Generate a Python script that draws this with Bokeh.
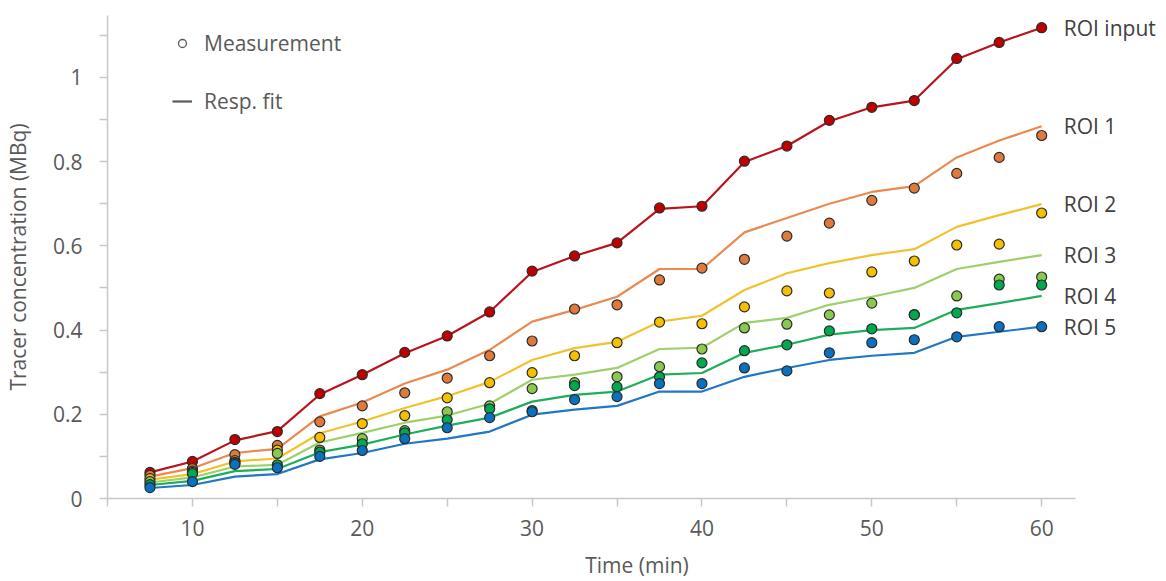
from bokeh.plotting import figure
from bokeh.models import (Range1d, FixedTicker, CustomJSTickFormatter, Label,
                          Legend, LegendItem)
from bokeh.embed import file_html
from bokeh.resources import INLINE

# ---------------- data ----------------
time_min = [7.5, 10, 12.5, 15, 17.5, 20, 22.5, 25, 27.5, 30, 32.5, 35,
            37.5, 40, 42.5, 45, 47.5, 50, 52.5, 55, 57.5, 60]

meas_input = [0.062, 0.088, 0.140, 0.159, 0.249, 0.294, 0.347, 0.386, 0.443, 0.540, 0.576,
              0.607, 0.690, 0.694, 0.801, 0.837, 0.898, 0.929, 0.945, 1.045, 1.083, 1.118]
fit_input = [0.062, 0.088, 0.138, 0.160, 0.247, 0.294, 0.345, 0.386, 0.443, 0.538, 0.576,
             0.607, 0.688, 0.694, 0.799, 0.837, 0.896, 0.929, 0.945, 1.043, 1.083, 1.118]

meas_roi1 = [0.055, 0.071, 0.104, 0.126, 0.182, 0.220, 0.251, 0.286, 0.339, 0.374, 0.450,
             0.460, 0.519, 0.547, 0.568, 0.623, 0.654, 0.708, 0.737, 0.772, 0.810, 0.862]
fit_roi1 = [0.052, 0.072, 0.108, 0.118, 0.195, 0.228, 0.273, 0.306, 0.353, 0.420, 0.448,
            0.479, 0.545, 0.545, 0.632, 0.666, 0.700, 0.728, 0.742, 0.810, 0.850, 0.884]

meas_roi2 = [0.047, 0.065, 0.090, 0.115, 0.145, 0.178, 0.197, 0.239, 0.275, 0.299, 0.339,
             0.370, 0.419, 0.415, 0.455, 0.493, 0.488, 0.538, 0.564, 0.602, 0.604, 0.678]
fit_roi2 = [0.045, 0.058, 0.088, 0.095, 0.155, 0.183, 0.215, 0.243, 0.277, 0.329, 0.357,
            0.372, 0.420, 0.434, 0.495, 0.535, 0.559, 0.578, 0.592, 0.645, 0.673, 0.699]

meas_roi3 = [0.040, 0.062, 0.086, 0.107, 0.115, 0.142, 0.161, 0.206, 0.220, 0.261, 0.275,
             0.289, 0.313, 0.355, 0.405, 0.414, 0.436, 0.464, 0.437, 0.481, 0.521, 0.526]
fit_roi3 = [0.038, 0.050, 0.076, 0.080, 0.133, 0.156, 0.180, 0.197, 0.225, 0.282, 0.294,
            0.310, 0.355, 0.358, 0.417, 0.429, 0.460, 0.479, 0.500, 0.545, 0.562, 0.578]

meas_roi4 = [0.033, 0.059, 0.084, 0.080, 0.110, 0.130, 0.156, 0.187, 0.213, 0.209, 0.268,
             0.265, 0.289, 0.322, 0.351, 0.365, 0.398, 0.403, 0.436, 0.441, 0.507, 0.507]
fit_roi4 = [0.032, 0.042, 0.065, 0.070, 0.110, 0.128, 0.152, 0.173, 0.192, 0.230, 0.246,
            0.254, 0.294, 0.298, 0.346, 0.365, 0.389, 0.400, 0.405, 0.448, 0.464, 0.481]

meas_roi5 = [0.026, 0.040, 0.081, 0.073, 0.100, 0.114, 0.142, 0.168, 0.192, 0.206, 0.235,
             0.242, 0.273, 0.273, 0.310, 0.303, 0.346, 0.370, 0.377, 0.384, 0.408, 0.408]
fit_roi5 = [0.025, 0.032, 0.052, 0.058, 0.093, 0.108, 0.130, 0.142, 0.159, 0.199, 0.211,
            0.220, 0.254, 0.254, 0.289, 0.310, 0.329, 0.339, 0.346, 0.384, 0.396, 0.408]

series_names = ["ROI input", "ROI 1", "ROI 2", "ROI 3", "ROI 4", "ROI 5"]
measurements = [meas_input, meas_roi1, meas_roi2, meas_roi3, meas_roi4, meas_roi5]
fits = [fit_input, fit_roi1, fit_roi2, fit_roi3, fit_roi4, fit_roi5]
line_colors = ["#B8141E", "#E98A50", "#F2C22E", "#9DD06A", "#1EAE5A", "#2277C4"]
dot_colors = ["#C00000", "#E07A3C", "#F5C000", "#8CC850", "#00A850", "#0A70C0"]

x_ticks = [10, 20, 30, 40, 50, 60]
x_minor = [5, 15, 25, 35, 45, 55]
y_ticks = [0, 0.2, 0.4, 0.6, 0.8, 1.0]
y_minor = [0.1, 0.3, 0.5, 0.7, 0.9, 1.1]

FONT = "Open Sans"
TXT = "#595959"
FS = "21px"

p = figure(width=1166, height=581, output_backend="svg", toolbar_location=None,
           x_range=Range1d(5, 67.35), y_range=Range1d(0, 1.147),
           min_border_left=106, min_border_right=0, min_border_top=15,
           min_border_bottom=82)
p.outline_line_color = None
p.grid.visible = False
p.background_fill_color = "white"

for ax in (p.xaxis[0], p.yaxis[0]):
    ax.axis_line_color = "#C8C8C8"
    ax.axis_line_width = 1.5
    ax.major_tick_line_color = "#C8C8C8"
    ax.minor_tick_line_color = "#C8C8C8"
    ax.major_tick_line_width = 1.5
    ax.minor_tick_line_width = 1.5
    ax.major_tick_in = 0
    ax.major_tick_out = 8
    ax.minor_tick_in = 0
    ax.minor_tick_out = 8
    ax.major_label_text_font = FONT
    ax.major_label_text_font_size = FS
    ax.major_label_text_color = TXT
    ax.axis_label_text_font = FONT
    ax.axis_label_text_font_size = FS
    ax.axis_label_text_font_style = "normal"
    ax.axis_label_text_color = TXT

p.xaxis.bounds = (5, 62)
p.xaxis.ticker = FixedTicker(ticks=x_ticks, minor_ticks=x_minor)
p.yaxis.ticker = FixedTicker(ticks=y_ticks, minor_ticks=y_minor)
p.yaxis.formatter = CustomJSTickFormatter(
    code="return tick.toFixed(1).replace(/\\.0$/, '');")
p.xaxis.axis_label = "Time (min)"
p.yaxis.axis_label = "Tracer concentration (MBq)"
p.xaxis.major_label_standoff = 13
p.yaxis.major_label_standoff = 17
p.xaxis.axis_label_standoff = 12
p.yaxis.axis_label_standoff = 18

# fit lines
for fit, col in zip(fits, line_colors):
    p.line(time_min, fit, line_color=col, line_width=2.2)

# measurement dots (blue drawn last)
for meas, col in zip(measurements, dot_colors):
    p.scatter(time_min, meas, size=10, fill_color=col, line_color="#2B2B2B",
              line_width=1.2)

# right-side labels at end of each fit
for name, fit in zip(series_names, fits):
    p.add_layout(Label(x=61.3, y=fit[-1], text=name, text_font=FONT,
                       text_font_size=FS, text_color="#404040",
                       text_baseline="middle", text_align="left"))

# legend (renderers carry no visible data point)
nan = float("nan")
r_meas = p.scatter([nan], [nan], size=7, fill_color="white", line_color="#595959",
                   line_width=1.3)
r_fit = p.line([nan, nan], [nan, nan], line_color="#595959", line_width=2.2)
legend = Legend(items=[LegendItem(label="Measurement", renderers=[r_meas]),
                       LegendItem(label="Resp. fit", renderers=[r_fit])],
                location=(65, 382), orientation="vertical",
                glyph_width=20, glyph_height=30, label_height=30,
                label_standoff=12, spacing=28, padding=0, margin=0,
                border_line_color=None, background_fill_alpha=0,
                label_text_font=FONT, label_text_font_size=FS,
                label_text_color=TXT)
p.add_layout(legend)

open("out.html", "w").write(file_html(p, INLINE))
